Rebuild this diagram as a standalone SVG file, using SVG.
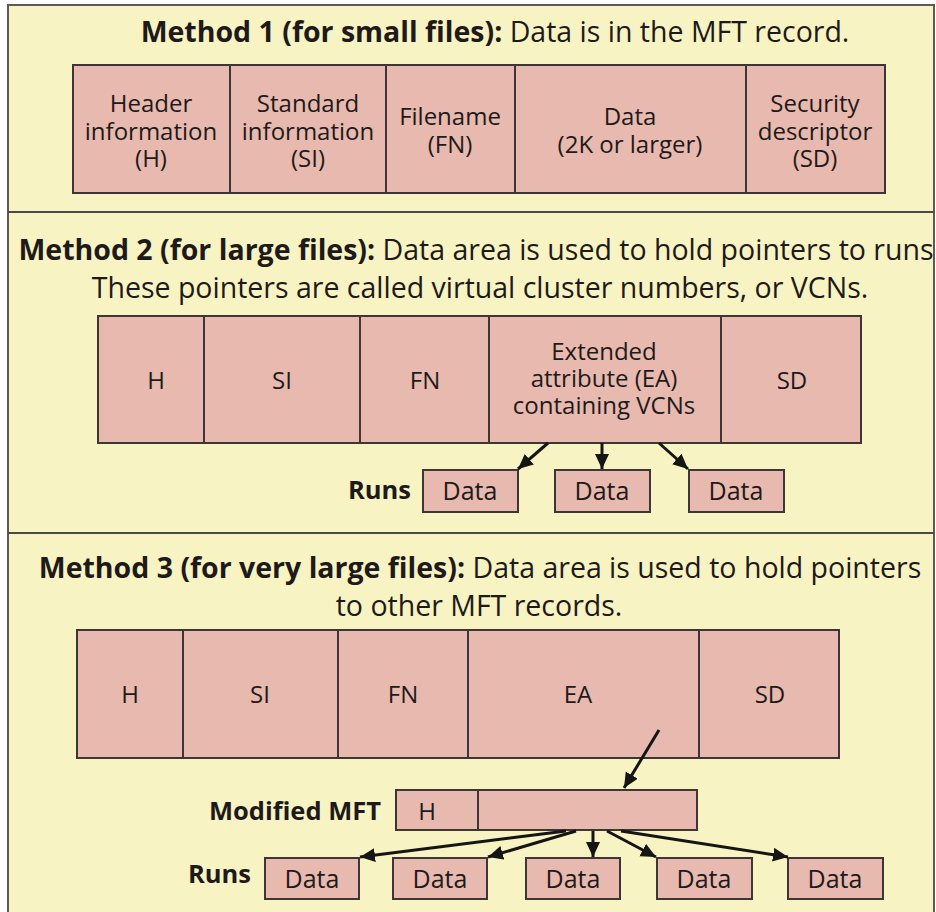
<svg xmlns="http://www.w3.org/2000/svg" width="936" height="912" viewBox="0 0 936 912">
<style>
text{font-family:"Open Sans","DejaVu Sans",sans-serif;fill:#1e1a1a}
.t{font-size:28.5px;text-anchor:middle}
.b{font-weight:bold}
.l{font-size:24px;text-anchor:middle}
.d{font-size:25px;text-anchor:middle}
.lb{font-size:25.5px;font-weight:bold;text-anchor:end}
.box{fill:#e8b9ae;stroke:#3e3636;stroke-width:2}
.div{stroke:#3e3636;stroke-width:2}
.arr{stroke:#151515;stroke-width:3;fill:none;marker-end:url(#ah)}
</style>
<defs>
<marker id="ah" markerUnits="userSpaceOnUse" markerWidth="18" markerHeight="16" refX="15" refY="7" orient="auto">
<path d="M0,0 L15,7 L0,14 Z" fill="#151515"/>
</marker>
</defs>
<rect x="0" y="0" width="936" height="912" fill="#ffffff"/>
<rect x="8" y="5" width="926" height="912" fill="#f8f3c2" stroke="#5a5a5a" stroke-width="2"/>
<line x1="8" y1="212" x2="934" y2="212" stroke="#4a4a4a" stroke-width="2"/>
<line x1="8" y1="533" x2="934" y2="533" stroke="#4a4a4a" stroke-width="2"/>

<g id="title1"><text class="t" x="495" y="42"><tspan class="b">Method 1 (for small files):</tspan> Data is in the MFT record.</text></g>

<g id="m1-record">
<rect class="box" x="73" y="65" width="812" height="128"/>
<line class="div" x1="230" y1="65" x2="230" y2="193"/>
<line class="div" x1="386" y1="65" x2="386" y2="193"/>
<line class="div" x1="515" y1="65" x2="515" y2="193"/>
<line class="div" x1="746" y1="65" x2="746" y2="193"/>
<text class="l" x="151" y="112">Header</text>
<text class="l" x="151" y="140">information</text>
<text class="l" x="151" y="167">(H)</text>
<text class="l" x="308" y="112">Standard</text>
<text class="l" x="308" y="140">information</text>
<text class="l" x="308" y="167">(SI)</text>
<text class="l" x="450" y="125">Filename</text>
<text class="l" x="450" y="153">(FN)</text>
<text class="l" x="630" y="125">Data</text>
<text class="l" x="630" y="153">(2K or larger)</text>
<text class="l" x="815" y="112">Security</text>
<text class="l" x="815" y="140">descriptor</text>
<text class="l" x="815" y="167">(SD)</text>
</g>

<g id="title2">
<text class="t" x="476" y="260"><tspan class="b">Method 2 (for large files):</tspan> Data area is used to hold pointers to runs</text>
<text class="t" x="480" y="298">These pointers are called virtual cluster numbers, or VCNs.</text>
</g>

<g id="m2-record">
<rect class="box" x="98" y="316" width="763" height="127"/>
<line class="div" x1="204" y1="316" x2="204" y2="443"/>
<line class="div" x1="360" y1="316" x2="360" y2="443"/>
<line class="div" x1="489" y1="316" x2="489" y2="443"/>
<line class="div" x1="721" y1="316" x2="721" y2="443"/>
<text class="l" x="156" y="389">H</text>
<text class="l" x="282" y="389">SI</text>
<text class="l" x="425" y="389">FN</text>
<text class="l" x="604" y="360">Extended</text>
<text class="l" x="604" y="387">attribute (EA)</text>
<text class="l" x="604" y="414">containing VCNs</text>
<text class="l" x="792" y="389">SD</text>
</g>

<g id="m2-runs">
<text class="lb" x="411" y="499">Runs</text>
<rect class="box" x="423" y="470" width="95" height="42"/>
<text class="d" x="470" y="500">Data</text>
<rect class="box" x="555" y="470" width="95" height="42"/>
<text class="d" x="602" y="500">Data</text>
<rect class="box" x="689" y="470" width="95" height="42"/>
<text class="d" x="736" y="500">Data</text>
</g>

<g id="title3">
<text class="t" x="480" y="578"><tspan class="b">Method 3 (for very large files):</tspan> Data area is used to hold pointers</text>
<text class="t" x="479" y="616">to other MFT records.</text>
</g>

<g id="m3-record">
<rect class="box" x="77" y="630" width="762" height="128"/>
<line class="div" x1="183" y1="630" x2="183" y2="758"/>
<line class="div" x1="338" y1="630" x2="338" y2="758"/>
<line class="div" x1="468" y1="630" x2="468" y2="758"/>
<line class="div" x1="699" y1="630" x2="699" y2="758"/>
<text class="l" x="130" y="703">H</text>
<text class="l" x="260" y="703">SI</text>
<text class="l" x="403" y="703">FN</text>
<text class="l" x="578" y="703">EA</text>
<text class="l" x="770" y="703">SD</text>
</g>

<g id="m3-modified">
<text class="lb" x="381" y="820">Modified MFT</text>
<rect class="box" x="396" y="790" width="301" height="40"/>
<line class="div" x1="478" y1="790" x2="478" y2="830"/>
<text class="l" x="427" y="820">H</text>
</g>

<g id="m3-runs">
<text class="lb" x="251" y="883">Runs</text>
<rect class="box" x="265" y="858" width="94" height="41"/>
<text class="d" x="312" y="888">Data</text>
<rect class="box" x="393" y="858" width="94" height="41"/>
<text class="d" x="440" y="888">Data</text>
<rect class="box" x="526" y="858" width="94" height="41"/>
<text class="d" x="573" y="888">Data</text>
<rect class="box" x="657" y="858" width="95" height="41"/>
<text class="d" x="704" y="888">Data</text>
<rect class="box" x="788" y="858" width="95" height="41"/>
<text class="d" x="835" y="888">Data</text>
</g>

<g id="connectors">
<line class="arr" x1="548" y1="443" x2="518" y2="469"/>
<line class="arr" x1="602" y1="443" x2="602" y2="469"/>
<line class="arr" x1="659" y1="443" x2="688" y2="469"/>
<line class="arr" x1="659" y1="730" x2="624" y2="788"/>
<line class="arr" x1="566" y1="831" x2="360" y2="857"/>
<line class="arr" x1="576" y1="831" x2="488" y2="857"/>
<line class="arr" x1="593" y1="831" x2="593" y2="857"/>
<line class="arr" x1="607" y1="831" x2="656" y2="857"/>
<line class="arr" x1="621" y1="831" x2="788" y2="857"/>
</g>
</svg>
